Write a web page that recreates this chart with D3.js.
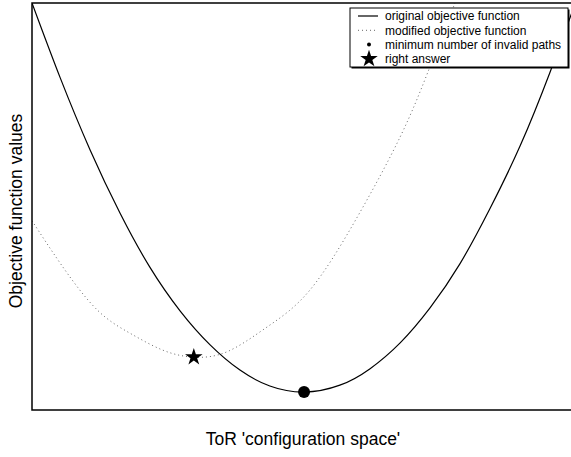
<!DOCTYPE html>
<html>
<head>
<meta charset="utf-8">
<script src="https://cdn.jsdelivr.net/npm/d3@7"></script>
<style>
  body { margin: 0; background: #fff; }
  svg { display: block; font-family: "Liberation Sans", Arial, sans-serif; }
</style>
</head>
<body>
<div id="chart"></div>
<script>
// values (arbitrary units, 0..100 on both axes)
const originalX = [0, 5.2, 10.7, 16.2, 21.7, 27.3, 32.8, 38.3, 43.8, 50.1, 56.7, 62.2, 67.8, 73.3, 78.8, 84.3, 89.9, 95.4, 100];
const originalY = [100, 81.6, 63.9, 48.4, 35.1, 24.3, 16.0, 9.8, 5.9, 4.4, 6.1, 10.1, 16.5, 25.1, 35.9, 49.4, 64.9, 83.0, 99.8];

const modifiedX = [0, 5.7, 12.0, 18.0, 24.1, 29.7, 35.9, 43.3, 51.2, 59.9, 67.8, 72.9, 77.9];
const modifiedY = [46.5, 35.1, 24.6, 18.9, 14.7, 13.0, 14.3, 20.4, 29.5, 47.4, 67.1, 83.0, 100];

const minInvalid = [50.1, 4.4];   // filled circle
const rightAnswer = [29.8, 13.0]; // star

const legendLabels = [
  "original objective function",
  "modified objective function",
  "minimum number of invalid paths",
  "right answer"
];

const xLabel = "ToR 'configuration space'";
const yLabel = "Objective function values";

const width = 571, height = 457;
const margin = { top: 3, right: -4, bottom: 47, left: 32 };

const svg = d3.select("#chart").append("svg")
  .attr("width", width)
  .attr("height", height);

const x = d3.scaleLinear([0, 100], [margin.left, width - margin.right]);
const y = d3.scaleLinear([0, 100], [height - margin.bottom, margin.top]);

svg.append("clipPath").attr("id", "clip")
  .append("rect")
  .attr("x", x(0)).attr("y", y(100))
  .attr("width", x(100) - x(0)).attr("height", y(0) - y(100));

const line = d3.line()
  .x(d => x(d[0]))
  .y(d => y(d[1]))
  .curve(d3.curveNatural);

const plot = svg.append("g").attr("clip-path", "url(#clip)");

// modified objective (dotted)
plot.append("path")
  .attr("d", line(d3.zip(modifiedX, modifiedY)))
  .attr("fill", "none")
  .attr("stroke", "#666")
  .attr("stroke-width", 1)
  .attr("stroke-dasharray", "1,3");

// original objective (solid)
plot.append("path")
  .attr("d", line(d3.zip(originalX, originalY)))
  .attr("fill", "none")
  .attr("stroke", "#000")
  .attr("stroke-width", 1.2);

const star = d3.symbol().type(d3.symbolStar);

plot.append("circle")
  .attr("cx", x(minInvalid[0]))
  .attr("cy", y(minInvalid[1]))
  .attr("r", 6)
  .attr("fill", "#000");

plot.append("path")
  .attr("d", star.size(95)())
  .attr("transform", `translate(${x(rightAnswer[0])},${y(rightAnswer[1])})`)
  .attr("fill", "#000");

// axes box, no ticks
svg.append("rect")
  .attr("x", x(0)).attr("y", y(100))
  .attr("width", x(100) - x(0)).attr("height", y(0) - y(100))
  .attr("fill", "none")
  .attr("stroke", "#000")
  .attr("stroke-width", 1.5);

svg.append("text")
  .attr("x", 303)
  .attr("y", 445)
  .attr("text-anchor", "middle")
  .attr("font-size", 17.5)
  .text(xLabel);

svg.append("text")
  .attr("transform", "translate(22,211) rotate(-90)")
  .attr("text-anchor", "middle")
  .attr("font-size", 17.5)
  .text(yLabel);

// legend
const lg = svg.append("g").attr("transform", "translate(350,8)");
const lw = 218, lh = 59;
lg.append("rect")
  .attr("x", 1.5).attr("y", 1.5).attr("width", lw).attr("height", lh)
  .attr("fill", "#000");
lg.append("rect")
  .attr("width", lw).attr("height", lh)
  .attr("fill", "#fff")
  .attr("stroke", "#000")
  .attr("stroke-width", 1);

const rowY = i => 8 + i * 14.3;

lg.append("line")
  .attr("x1", 8).attr("x2", 28).attr("y1", rowY(0)).attr("y2", rowY(0))
  .attr("stroke", "#000").attr("stroke-width", 1.2);
lg.append("line")
  .attr("x1", 8).attr("x2", 28).attr("y1", rowY(1)).attr("y2", rowY(1))
  .attr("stroke", "#666").attr("stroke-width", 1).attr("stroke-dasharray", "1,3");
lg.append("circle")
  .attr("cx", 19).attr("cy", rowY(2)).attr("r", 2).attr("fill", "#000");
lg.append("path")
  .attr("d", star.size(95)())
  .attr("transform", `translate(19,${rowY(3)})`)
  .attr("fill", "#000");

lg.selectAll("text.lab")
  .data(legendLabels)
  .join("text")
  .attr("class", "lab")
  .attr("x", 35)
  .attr("y", (d, i) => rowY(i))
  .attr("dy", "0.35em")
  .attr("font-size", 12)
  .text(d => d);
</script>
</body>
</html>
